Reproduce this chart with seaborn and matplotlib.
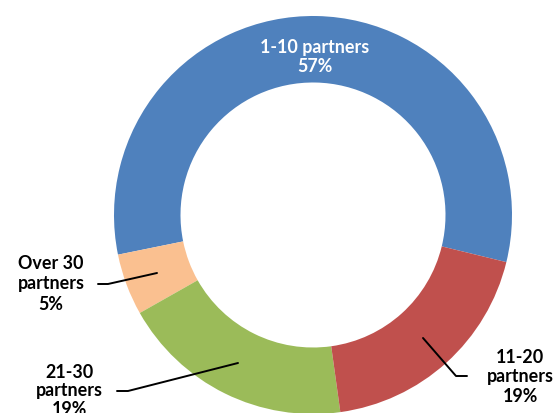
import matplotlib
matplotlib.use("Agg")
import matplotlib.pyplot as plt
import seaborn as sns

# Share of respondents by number of partners
categories = ["1-10 partners", "Over 30 partners", "21-30 partners", "11-20 partners"]
shares = [57, 5, 19, 19]
colors = ["#4F81BD", "#FAC090", "#9BBB59", "#C0504D"]

sns.set_theme(style="white")
plt.rcParams["font.family"] = ["Lato", "DejaVu Sans"]

W, H = 560, 414
fig = plt.figure(figsize=(W / 100, H / 100), dpi=100)
ax = fig.add_axes([0, 0, 1, 1])

cx, cy = 313, H - 216
R = 199
ax.pie(shares, colors=colors, center=(cx, cy), radius=R,
       startangle=-13.7, counterclock=True, frame=True,
       wedgeprops=dict(width=66.5, linewidth=0))

ax.set_xlim(0, W)
ax.set_ylim(0, H)
ax.set_aspect("equal", adjustable="box")
ax.axis("off")

fs = 12.9


def lines(x, baselines, texts, color="black"):
    for yb, t in zip(baselines, texts):
        ax.text(x, H - yb, t, ha="center", va="baseline", fontsize=fs,
                fontweight="bold", color=color)


# inside label for the largest slice
lines(315, [53, 72], ["1-10 partners", f"{shares[0]}%"], color="white")

# outside labels with leader lines
lines(51, [269, 289, 310], ["Over 30", "partners", f"{shares[1]}%"])
ax.plot([98, 108, 157], [H - 285, H - 285, H - 274], color="black", lw=1.4)

lines(69, [378, 396, 415], ["21-30", "partners", f"{shares[2]}%"])
ax.plot([117, 128, 238], [H - 392, H - 392, H - 364], color="black", lw=1.4)

lines(520, [363, 382, 402], ["11-20", "partners", f"{shares[3]}%"])
ax.plot([423, 456, 467], [H - 339, H - 377, H - 377], color="black", lw=1.4)

fig.savefig("out.png", dpi=100)
